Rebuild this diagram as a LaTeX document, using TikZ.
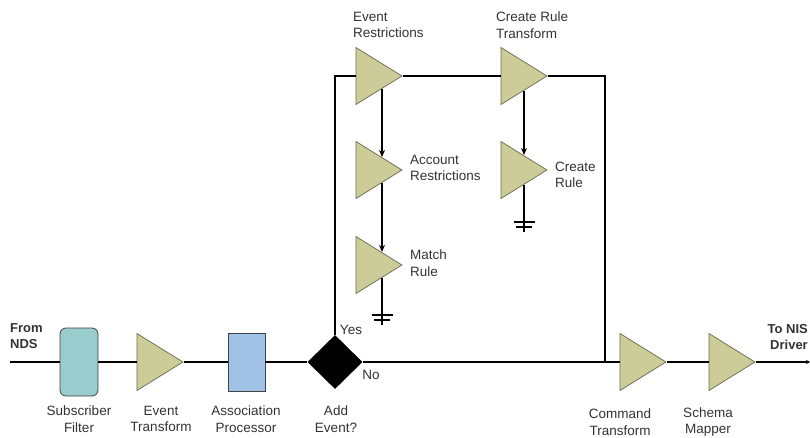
\documentclass[tikz,border=0pt]{standalone}
\usepackage{fontspec}
\setmainfont{Liberation Sans}
\usepackage{tikz}
\usetikzlibrary{arrows.meta,positioning,shapes.geometric}

\definecolor{stagefill}{RGB}{204,204,153}
\definecolor{stageline}{RGB}{115,115,90}
\definecolor{filterfill}{RGB}{153,204,204}
\definecolor{procfill}{RGB}{160,194,230}

\tikzset{
  stage/.style={isosceles triangle, isosceles triangle stretches, shape border rotate=0,
    minimum width=57pt, minimum height=46pt, inner sep=0pt, anchor=apex,
    fill=stagefill, draw=stageline, line width=0.8pt},
  wire/.style={line width=1.6pt, black},
  flow/.style={wire, -{Stealth[length=7pt,width=6pt]}},
  lbl/.style={font=\fontsize{13.5}{16.5}\selectfont, text=black!80, align=left, inner sep=0pt},
  undercap/.style={lbl, align=center},
  earth/.pic={
    \draw[wire] (0,0) -- (0,-47);
    \draw[line width=1.4pt] (-10.5,-37) -- (10.5,-37);
    \draw[line width=1.4pt] (-8,-42) -- (8,-42); }
}

\begin{document}
\begin{tikzpicture}[x=1pt, y=1pt]
\useasboundingbox (0,0) rectangle (810,437);

% main path
\node (sf) [draw=black!75, line width=0.8pt, fill=filterfill, rounded corners=6pt, minimum width=38pt, minimum height=68pt] at (79,75) {};
\node (et) [stage] at (184,75) {};
\node (ap) [draw=black!75, line width=0.8pt, fill=procfill, minimum width=37pt, minimum height=58pt] at (246.5,75) {};
\node (ae) [diamond, fill=black, minimum width=55pt, minimum height=54pt, inner sep=0pt] at (335,75) {};
\node (ct) [stage] at (667,75) {};
\node (sm) [stage] at (756,75) {};
\coordinate (from) at (10,75);
\coordinate (to) at (810,75);
\coordinate (join) at (605,75);

% add branch
\node (er) [stage] at (403,361) {};
\node (crt) [stage] at (548,361) {};
\node (ar) [stage] at (403,267) {};
\node (mr) [stage] at (403,172) {};
\node (cr) [stage] at (548,267) {};

\draw[wire] (from) -- (sf.west);
\draw[wire] (sf.east) -- (et.west);
\draw[wire] (et.apex) -- (ap.west);
\draw[wire] (ap.east) -- (ae.west);
\draw[wire] (ae.east) -- (ct.west);
\draw[wire] (ct.apex) -- (sm.west);
\draw[wire, -{Stealth[length=4pt,width=4pt]}] (sm.apex) -- (to);

\draw[wire] (ae.north) |- (er.west);
\draw[wire] (er.apex) -- (crt.west);
\draw[wire] (crt.apex) -| (join);

\draw[flow] ([shift={(-21pt,-13pt)}]er.apex) -- ([shift={(-21pt,13pt)}]ar.apex);
\draw[flow] ([shift={(-21pt,-13pt)}]ar.apex) -- ([shift={(-21pt,13pt)}]mr.apex);
\draw[flow] ([shift={(-24pt,-15pt)}]crt.apex) -- ([shift={(-24pt,15pt)}]cr.apex);
\pic at ([shift={(-21pt,-13pt)}]mr.apex) {earth};
\pic at ([shift={(-24pt,-15pt)}]cr.apex) {earth};

% labels
\node (fromlbl) [lbl, anchor=west, font=\fontsize{13}{16.5}\selectfont\bfseries] at (10,101) {From\\NDS};
\node (tolbl) [lbl, anchor=east, align=right, font=\fontsize{13}{16.5}\selectfont\bfseries] at (808,100) {To NIS\\Driver};
\node (yes) [lbl] at (351,107) {Yes};
\node (no) [lbl] at (371,62) {No};
\node (sflbl) [undercap] at (79,18) {Subscriber\\Filter};
\node (etlbl) [undercap] at (161,18) {Event\\Transform};
\node (aplbl) [undercap] at (246,18) {Association\\Processor};
\node (aelbl) [undercap] at (336,18) {Add\\Event?};
\node (ctlbl) [undercap] at (620,15) {Command\\Transform};
\node (smlbl) [undercap] at (708,15) {Schema\\Mapper};
\node (erlbl) [lbl, anchor=west] at (353,412) {Event\\Restrictions};
\node (crtlbl) [lbl, anchor=west] at (496,412) {Create Rule\\Transform};
\node (arlbl) [lbl, anchor=west] at (410,269) {Account\\Restrictions};
\node (crlbl) [lbl, anchor=west] at (555,262) {Create\\Rule};
\node (mrlbl) [lbl, anchor=west] at (410,174) {Match\\Rule};
\end{tikzpicture}
\end{document}
